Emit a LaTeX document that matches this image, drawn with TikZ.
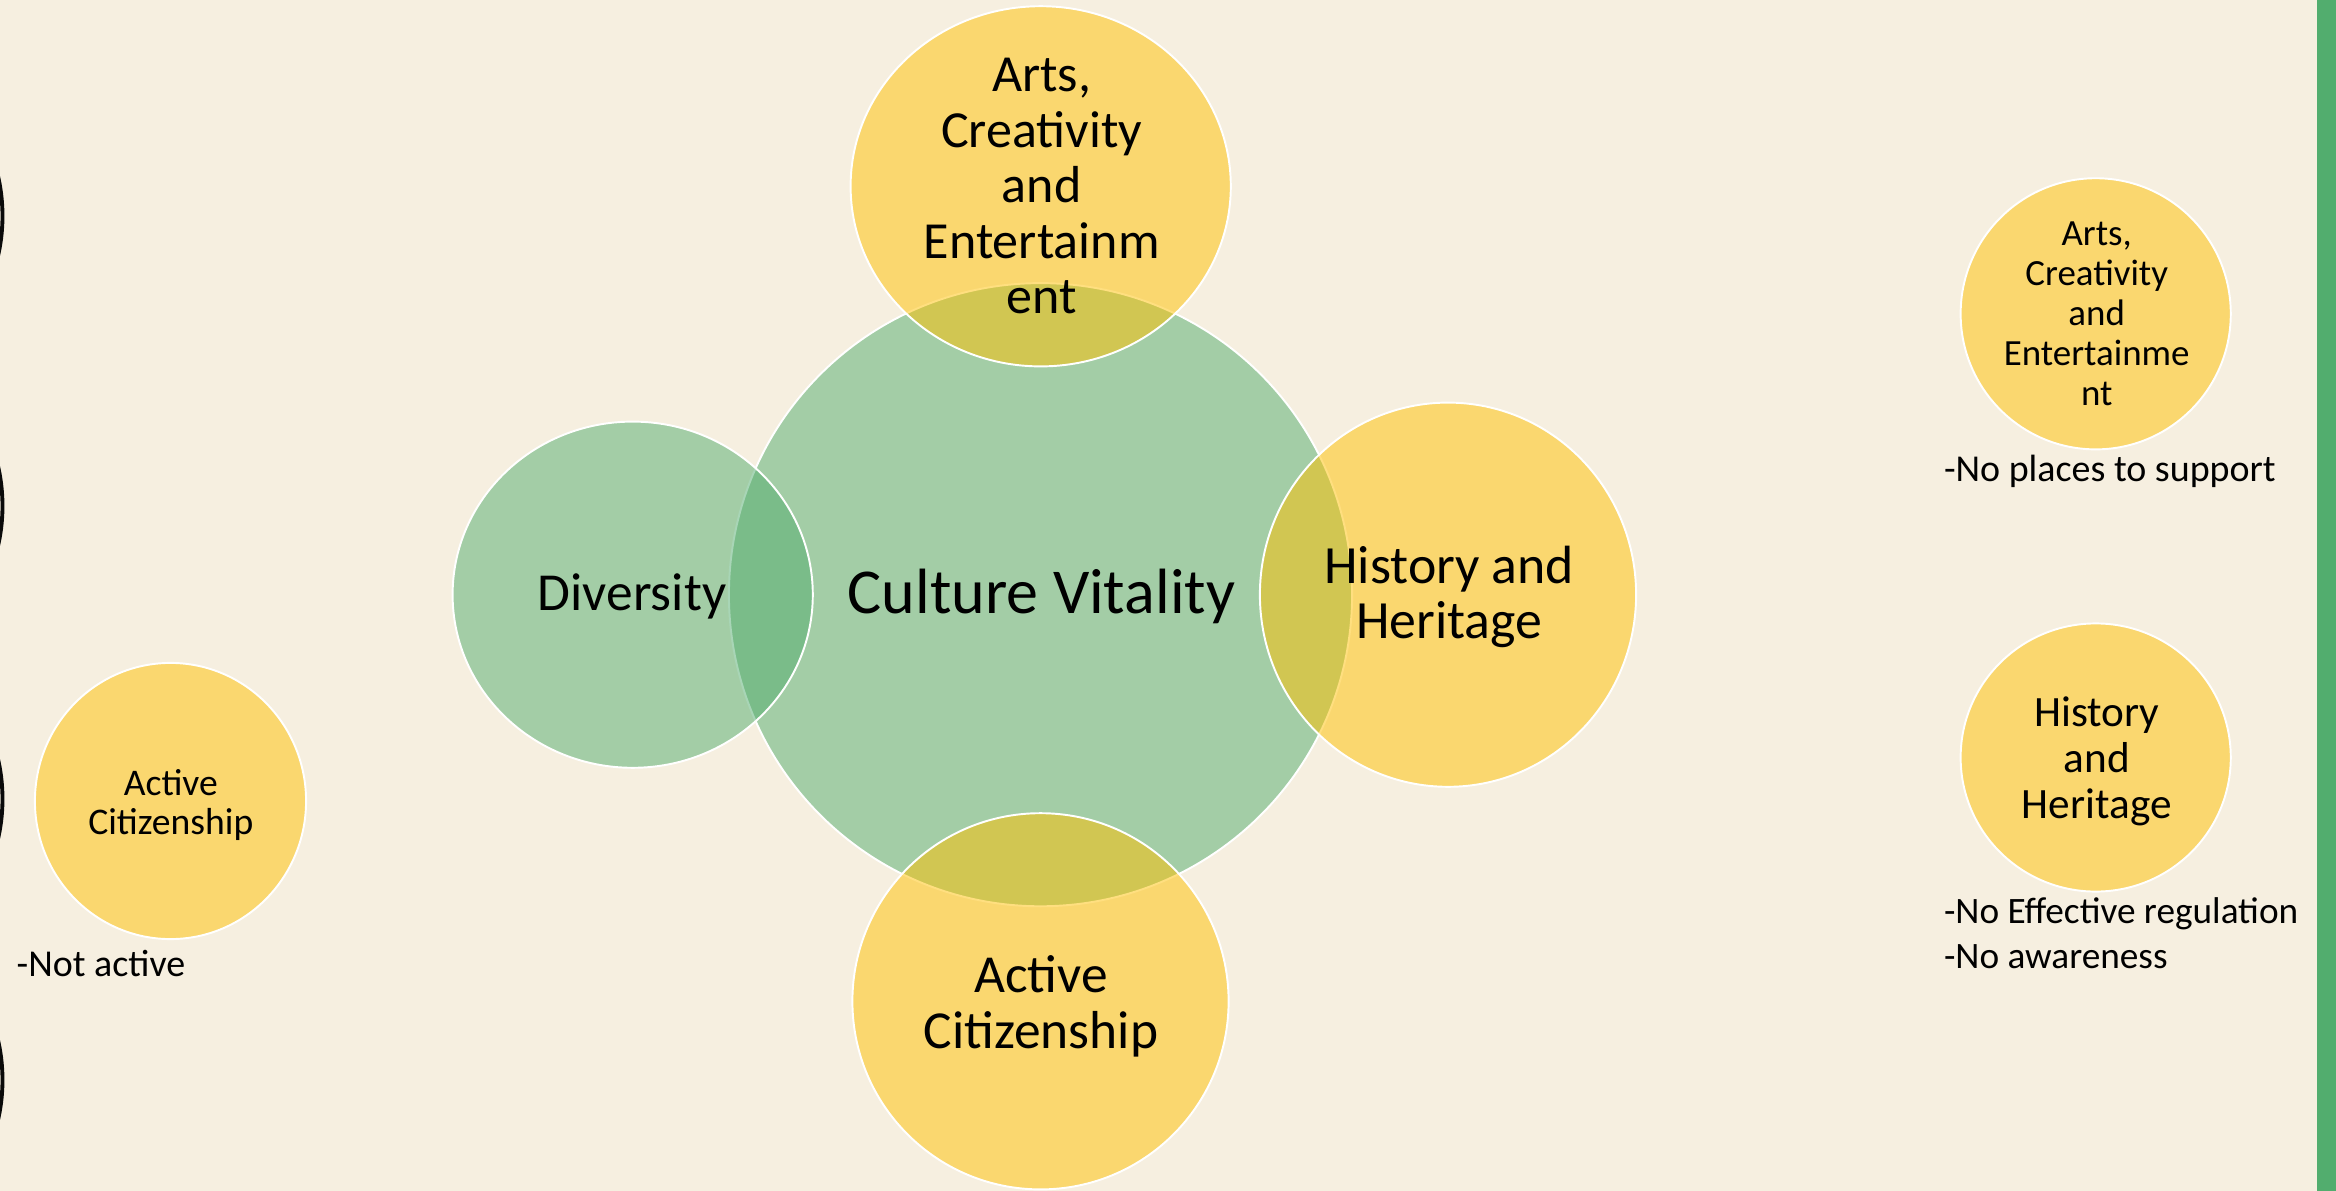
\documentclass[tikz,border=0pt]{standalone}
\usepackage{fontspec}
\setmainfont{Carlito}
\usetikzlibrary{shapes.geometric}
\definecolor{bgcol}{HTML}{F6EFE0}
\definecolor{vgreen}{HTML}{52AD6E}
\definecolor{vgold}{HTML}{FFC000}
\definecolor{arcink}{HTML}{0A0A0A}
\tikzset{
  venn/.style={ellipse, draw=white, line width=0.55pt, fill opacity=0.5, draw opacity=1, inner sep=0pt},
  gbub/.style={venn, fill=vgreen},
  ybub/.style={venn, fill=vgold},
  lbl/.style={anchor=base, align=center, inner sep=0pt, text=black},
  note/.style={anchor=base west, align=left, inner sep=0pt, text=black},
}
\begin{document}
\begin{tikzpicture}[x=0.01cm, y=-0.01cm]
\useasboundingbox (0,0) rectangle (2336,1191);
\fill[bgcol] (0,0) rectangle (2336,1191);
\fill[vgreen] (2316.7,0) rectangle (2336,1191);
\foreach \yy in {216,506,799,1080} \draw[arcink, line width=1.1pt] (-176,\yy) circle [radius=178.5];
% Venn circles
\node[gbub, minimum width=6.228cm, minimum height=6.228cm] (main) at (1040.5,594.7) {};
\node[gbub, minimum width=3.6cm, minimum height=3.46cm] (div) at (632.7,594.7) {};
\node[ybub, minimum width=3.8cm, minimum height=3.6cm] (arts) at (1040.7,186.3) {};
\node[ybub, minimum width=3.76cm, minimum height=3.84cm] (hist) at (1448,594.7) {};
\node[ybub, minimum width=3.76cm, minimum height=3.76cm] (act) at (1040.5,1001.3) {};
% side circles
\node[ybub, minimum width=2.70cm, minimum height=2.71cm] (artsS) at (2095.7,313.8) {};
\node[ybub, minimum width=2.70cm, minimum height=2.68cm] (histS) at (2095.7,757.5) {};
\node[ybub, minimum width=2.71cm, minimum height=2.76cm] (actS) at (170.5,801) {};
% texts (base anchor = last line baseline)
\node[lbl, font=\fontsize{18.2}{22}\selectfont] (mainT) at (1041.5,613.3) {Culture Vitality};
\node[lbl, font=\fontsize{15.2}{16}\selectfont] (divT) at (632,610) {Diversity};
\node[lbl, font=\fontsize{14.8}{15.8}\selectfont] (artsT) at (1041.7,313.7) {Arts,\\Creativity\\and\\Entertainm\\ent};
\node[lbl, font=\fontsize{15.3}{15.56}\selectfont] (histT) at (1449.2,638.3) {History and\\Heritage};
\node[lbl, font=\fontsize{15.2}{15.9}\selectfont] (actT) at (1041,1048.7) {Active\\Citizenship};
\node[lbl, font=\fontsize{10.5}{11.38}\selectfont] (artsST) at (2096.7,406) {Arts,\\Creativity\\and\\Entertainme\\nt};
\node[lbl, font=\fontsize{12.3}{13.1}\selectfont] (histST) at (2096.7,818.3) {History\\and\\Heritage};
\node[lbl, font=\fontsize{10.7}{11.2}\selectfont] (actST) at (170.8,834.7) {Active\\Citizenship};
% notes
\node[note, font=\fontsize{10.8}{12}\selectfont] (artsN) at (1943.3,481.7) {-No places to support};
\node[note, font=\fontsize{10.6}{12.8}\selectfont] (histN) at (1943.3,968.3) {-No Effective regulation\\-No awareness};
\node[note, font=\fontsize{10.8}{12}\selectfont] (actN) at (16,976.7) {-Not active};
\end{tikzpicture}
\end{document}
